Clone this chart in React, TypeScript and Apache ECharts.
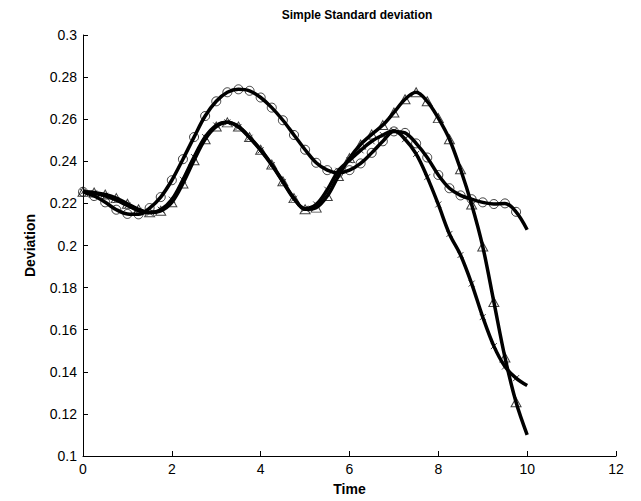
import React, { useEffect, useRef } from "react";
import * as echarts from "echarts";

const time: number[] = [
  0, 0.25, 0.5, 0.75, 1, 1.25, 1.5, 1.75, 2, 2.25, 2.5, 2.75, 3, 3.25, 3.5, 3.75,
  4, 4.25, 4.5, 4.75, 5, 5.25, 5.5, 5.75, 6, 6.25, 6.5, 6.75, 7, 7.25, 7.5, 7.75,
  8, 8.25, 8.5, 8.75, 9, 9.25, 9.5, 9.75, 10,
];

const circleSeries: number[] = [
  0.2255, 0.2235, 0.2205, 0.217, 0.215, 0.2148, 0.2178, 0.223, 0.231, 0.241,
  0.2515, 0.2615, 0.2685, 0.2728, 0.2742, 0.2735, 0.2703, 0.2655, 0.2595, 0.2525,
  0.2455, 0.2393, 0.2358, 0.2345, 0.2358, 0.239, 0.244, 0.2495, 0.2542, 0.2535,
  0.2485, 0.2418, 0.2335, 0.2272, 0.2238, 0.222, 0.2205, 0.2197, 0.22, 0.216, 0.2075,
];

const triangleSeries: number[] = [
  0.2255, 0.2252, 0.2242, 0.2225, 0.2198, 0.2172, 0.2158, 0.2165, 0.2205, 0.2295,
  0.2405, 0.2505, 0.2565, 0.2585, 0.2565, 0.2515, 0.2455, 0.2385, 0.2305, 0.2225,
  0.2172, 0.218, 0.2235, 0.233, 0.2415, 0.248, 0.2528, 0.2572, 0.2632, 0.2695,
  0.2728, 0.2685, 0.2605, 0.2505, 0.2362, 0.2195, 0.1995, 0.1732, 0.1468, 0.1255, 0.11,
];

const crossSeries: number[] = [
  0.2255, 0.2248, 0.2236, 0.2216, 0.219, 0.2165, 0.2155, 0.217, 0.2218, 0.2312,
  0.242, 0.2515, 0.257, 0.2585, 0.2563, 0.2512, 0.2452, 0.2382, 0.2302, 0.2222,
  0.2175, 0.2195, 0.2265, 0.2355, 0.2405, 0.2452, 0.2495, 0.2525, 0.2545, 0.2505,
  0.2435, 0.2325, 0.2195, 0.2055, 0.1955, 0.1819, 0.166, 0.1522, 0.1425, 0.137, 0.1335,
];

const xTicks = { min: 0, max: 12, interval: 2 };
const yTicks = { min: 0.1, max: 0.3, interval: 0.02 };

const FONT = "Liberation Sans, Arial, Helvetica, sans-serif";

function pairs(ys: number[]): number[][] {
  return time.map((t, i) => [t, ys[i]]);
}

export default function App() {
  const ref = useRef<HTMLDivElement | null>(null);

  useEffect(() => {
    if (!ref.current) return;
    const chart = echarts.init(ref.current, undefined, { renderer: "svg" });

    const lineStyle = { color: "#000", width: 3.5 };
    const mkLine = (name: string, ys: number[]) => ({
      name,
      type: "line",
      data: pairs(ys),
      smooth: 0.35,
      showSymbol: false,
      symbol: "none",
      lineStyle,
      z: 3,
      silent: true,
    });
    const mkMarks = (name: string, ys: number[], symbol: string, size: number | number[]) => ({
      name: name + " markers",
      type: "scatter",
      data: pairs(ys).slice(0, -1),
      symbol,
      symbolSize: size,
      itemStyle: { color: "rgba(0,0,0,0)", borderColor: "#111", borderWidth: 1 },
      z: 2,
      silent: true,
    });

    chart.setOption({
      animation: false,
      backgroundColor: "#fff",
      textStyle: { fontFamily: FONT },
      title: {
        text: "Simple Standard deviation",
        left: 352,
        top: 4,
        textAlign: "center",
        textStyle: { fontFamily: FONT, fontWeight: "bold", fontSize: 12, color: "#000" },
      },
      grid: { left: 83, right: 25, top: 35, bottom: 45, containLabel: false },
      xAxis: {
        type: "value",
        min: xTicks.min,
        max: xTicks.max,
        interval: xTicks.interval,
        name: "Time",
        nameLocation: "middle",
        nameGap: 26,
        nameTextStyle: { fontFamily: FONT, fontWeight: "bold", fontSize: 14, color: "#000" },
        axisLine: { show: true, onZero: false, lineStyle: { color: "#000", width: 1 } },
        axisTick: { show: true, inside: true, length: 5, lineStyle: { color: "#000" } },
        axisLabel: { fontFamily: FONT, fontSize: 14, color: "#000", margin: 6 },
        splitLine: { show: false },
      },
      yAxis: {
        type: "value",
        min: yTicks.min,
        max: yTicks.max,
        interval: yTicks.interval,
        name: "Deviation",
        nameLocation: "middle",
        nameGap: 46,
        nameTextStyle: { fontFamily: FONT, fontWeight: "bold", fontSize: 14, color: "#000" },
        axisLine: { show: true, lineStyle: { color: "#000", width: 1 } },
        axisTick: { show: true, inside: true, length: 5, lineStyle: { color: "#000" } },
        axisLabel: {
          fontFamily: FONT,
          fontSize: 14,
          color: "#000",
          margin: 6,
          formatter: (v: number) => String(parseFloat(v.toFixed(2))),
        },
        splitLine: { show: false },
      },
      series: [
        mkMarks("Circle", circleSeries, "circle", 9),
        mkMarks("Triangle", triangleSeries, "triangle", [10, 9]),
        mkMarks("Cross", crossSeries, "path://M0,0L10,10M10,0L0,10", 6),
        mkLine("Circle", circleSeries),
        mkLine("Triangle", triangleSeries),
        mkLine("Cross", crossSeries),
      ],
    });

    return () => chart.dispose();
  }, []);

  return <div ref={ref} style={{ width: 641, height: 501, position: "absolute", left: 0, top: 0 }} />;
}
